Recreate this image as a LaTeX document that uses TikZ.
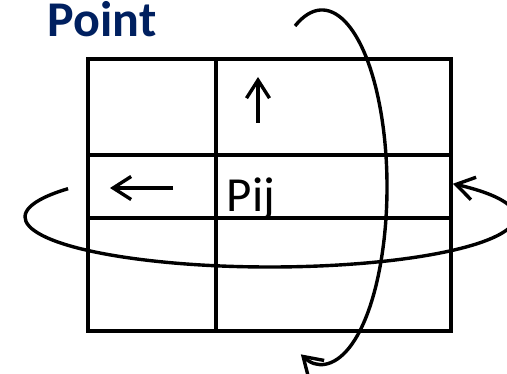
\documentclass[tikz,border=0pt]{standalone}
\usepackage{fontspec}
\setmainfont{Carlito}
\usetikzlibrary{arrows.meta, positioning}
\definecolor{pointblue}{RGB}{0,32,96}

\begin{document}
\begin{tikzpicture}[x=1pt, y=1pt, line width=3.4pt, >={Straight Barb[length=18pt, width=23pt]}]
	\useasboundingbox (0,0) rectangle (507,373);
	\clip (0,0) rectangle (507,373);
	\pgfmathsetmacro{\gridl}{88}
	\pgfmathsetmacro{\gridr}{451}
	\pgfmathsetmacro{\gridb}{42}
	\pgfmathsetmacro{\gridt}{314}
	\pgfmathsetmacro{\colx}{216}
	\pgfmathsetmacro{\rowa}{218}
	\pgfmathsetmacro{\rowb}{155}
	
	\node[anchor=base west, inner sep=0pt, text=pointblue, font=\fontsize{50}{54}\selectfont\bfseries] (point) at (46,336) {Point};
	
	\draw (\gridl,\gridb) -- ++(\gridr-\gridl,0) -- ++(0,\gridt-\gridb) -- ++(\gridl-\gridr,0) -- cycle;
	\draw (\colx,\gridb) -- (\colx,\gridt);
	\draw (\gridl,\rowa) -- (\gridr,\rowa);
	\draw (\gridl,\rowb) -- (\gridr,\rowb);
	
	\node[anchor=base west, inner sep=0pt, font=\fontsize{49}{52}\selectfont] (pij) at (225,161) {Pij};
	
	\coordinate (uptail) at (258,250);
	\coordinate (uptip) at (258,296);
	\draw[->] (uptail) -- (uptip);
	\coordinate (lefttail) at (173,185);
	\coordinate (lefttip) at (110,185);
	\draw[->] (lefttail) -- (lefttip);
	
	\coordinate (horzc) at (270,156);
	\coordinate (vertc) at (322,186);
	\draw[->] ([shift={(145.5:245 and 50)}]horzc) arc[start angle=145.5, end angle=401.7, x radius=245, y radius=50];
	\draw[->] ([shift={(114.5:65 and 177)}]vertc) arc[start angle=114.5, end angle=-109, x radius=65, y radius=177];
\end{tikzpicture}
\end{document}
